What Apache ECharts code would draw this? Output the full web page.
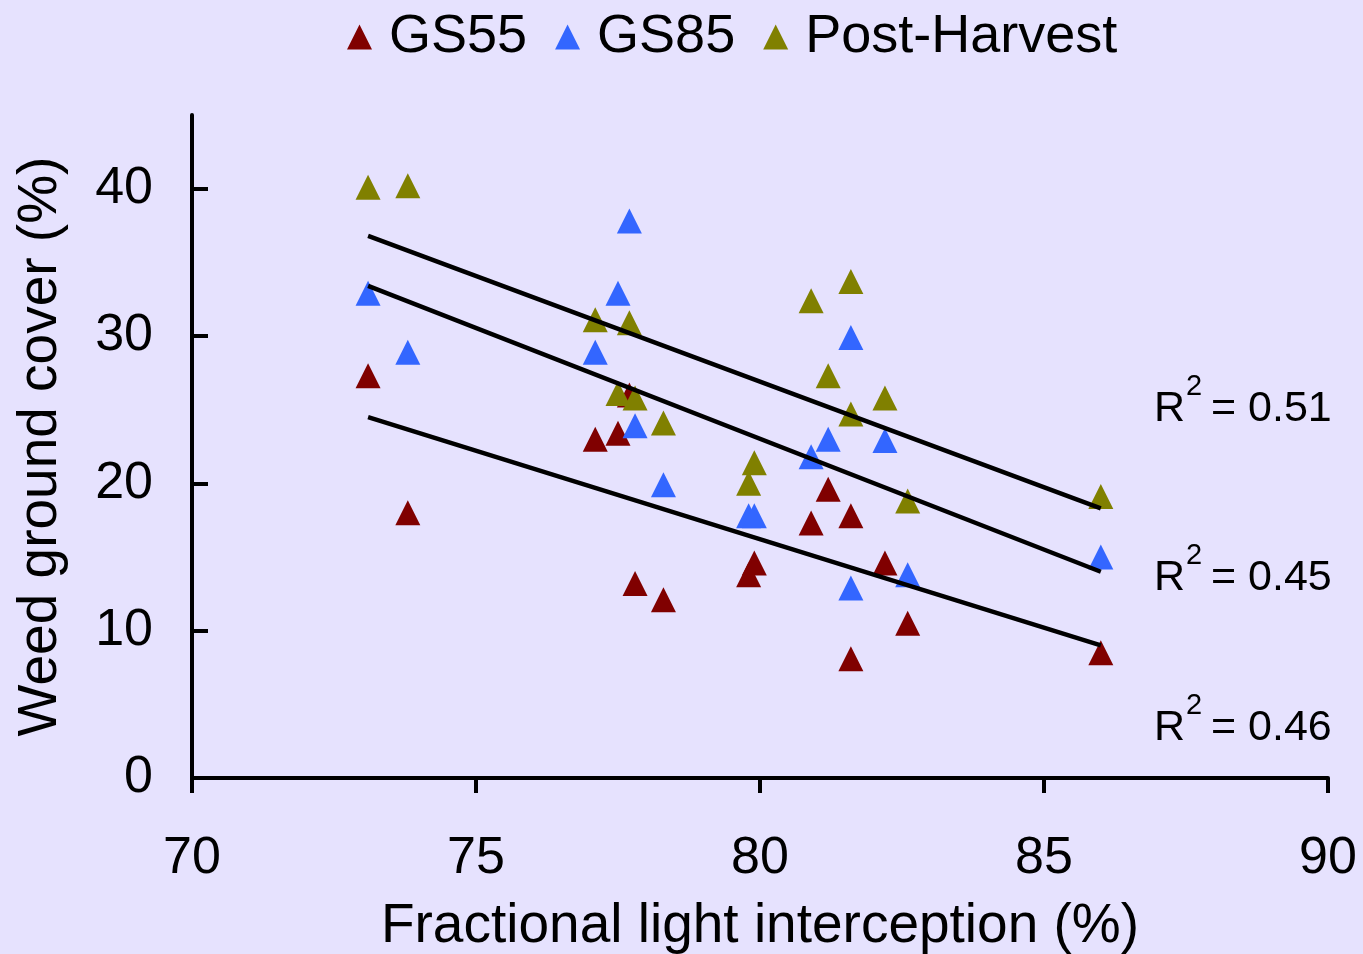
<!doctype html>
<html>
<head>
<meta charset="UTF-8">
<title>Weed ground cover vs light interception</title>
<script src="https://cdn.jsdelivr.net/npm/echarts@6/dist/echarts.min.js"></script>
<style>
  html, body { margin: 0; padding: 0; background: #e6e2fe; }
  #chart { width: 1363px; height: 954px; }
</style>
</head>
<body>
<div id="chart"></div>
<script>
// fractional light interception (%), shared by the three sampling times
var xVals = [73.1, 73.8, 77.1, 77.5, 77.7, 77.8, 78.3, 79.8, 79.9, 80.9, 81.2, 81.6, 81.6, 82.2, 82.6, 86.0];
// weed ground cover (%)
var gs55 = [27.3, 18.0, 23.0, 23.4, 26.0, 13.2, 12.1, 13.8, 14.6, 17.3, 19.6, 17.8, 8.1, 14.6, 10.5, 8.5];
var gs85 = [32.9, 28.9, 28.9, 32.9, 37.8, 23.9, 19.9, 17.8, 17.8, 21.8, 23.0, 29.9, 12.9, 22.9, 13.8, 15.0];
var postHarvest = [40.1, 40.2, 31.1, 26.1, 30.9, 25.8, 24.1, 20.0, 21.4, 32.4, 27.3, 33.7, 24.7, 25.8, 18.8, 19.1];

// trend lines (at both ends)
var trendX = [73.1, 86.0];
var trendGS55 = [24.5, 9.0];
var trendGS85 = [33.4, 14.0];
var trendPost = [36.8, 18.3];

var seriesNames = ['GS55', 'GS85', 'Post-Harvest'];
var seriesColors = ['#800000', '#3366ff', '#808000'];
var r2Values = ['0.51', '0.45', '0.46'];
var yTicks = [0, 10, 20, 30, 40];

var font = '"Liberation Sans", Arial, sans-serif';

function pairs(xs, ys) {
  var out = [];
  for (var i = 0; i < xs.length; i++) out.push([xs[i], ys[i]]);
  return out;
}

function scatter(name, ys, color) {
  return {
    name: name,
    type: 'scatter',
    symbol: 'triangle',
    symbolSize: [25, 25],
    itemStyle: { color: color, opacity: 1 },
    data: pairs(xVals, ys),
    z: 2
  };
}

function trend(ys) {
  return {
    type: 'line',
    symbol: 'none',
    silent: true,
    lineStyle: { color: '#000', width: 4.5 },
    data: pairs(trendX, ys),
    z: 5
  };
}

// R² labels: R, superscript 2, rest
function r2Text(value, yMid) {
  return [
    { type: 'text', left: 1154, top: yMid - 22, style: { text: 'R', font: '43px ' + font, fill: '#000' } },
    { type: 'text', left: 1186, top: yMid - 38, style: { text: '2', font: '29px ' + font, fill: '#000' } },
    { type: 'text', left: 1211, top: yMid - 22, style: { text: '= ' + value, font: '43px ' + font, fill: '#000' } }
  ];
}

var chart = echarts.init(document.getElementById('chart'), null, { renderer: 'canvas' });

var option = {
  backgroundColor: '#e6e2fe',
  animation: false,
  textStyle: { fontFamily: font },
  grid: { left: 192, right: 35, top: 115, bottom: 176, containLabel: false, outerBoundsMode: 'none' },
  legend: {
    data: seriesNames,
    left: 342,
    top: 5,
    icon: 'triangle',
    itemWidth: 25,
    itemHeight: 25,
    itemGap: 28,
    textStyle: { fontSize: 54, color: '#000', fontFamily: font, padding: [0, 0, 0, 12] }
  },
  xAxis: {
    type: 'value',
    min: 70,
    max: 90,
    interval: 5,
    name: 'Fractional light interception (%)',
    nameLocation: 'middle',
    nameGap: 121,
    nameTextStyle: { fontSize: 55, color: '#000', fontFamily: font },
    splitLine: { show: false },
    axisLine: { show: true, onZero: false, lineStyle: { color: '#000', width: 4 } },
    axisTick: { show: true, inside: false, length: 15, lineStyle: { color: '#000', width: 4 } },
    axisLabel: { fontSize: 52, color: '#000', margin: 55, fontFamily: font }
  },
  yAxis: {
    type: 'value',
    min: 0,
    max: 45,
    interval: 10,
    name: 'Weed ground cover (%)',
    nameLocation: 'middle',
    nameGap: 124,
    nameTextStyle: { fontSize: 55, color: '#000', fontFamily: font },
    splitLine: { show: false },
    axisLine: { show: true, onZero: false, lineStyle: { color: '#000', width: 4 } },
    axisTick: { show: true, inside: true, length: 16, customValues: yTicks, lineStyle: { color: '#000', width: 4 } },
    axisLabel: { fontSize: 52, color: '#000', margin: 39, customValues: yTicks, fontFamily: font }
  },
  graphic: [].concat(
    r2Text(r2Values[0], 410),
    r2Text(r2Values[1], 579),
    r2Text(r2Values[2], 729)
  ),
  series: [
    scatter(seriesNames[0], gs55, seriesColors[0]),
    scatter(seriesNames[1], gs85, seriesColors[1]),
    scatter(seriesNames[2], postHarvest, seriesColors[2]),
    trend(trendGS55),
    trend(trendGS85),
    trend(trendPost)
  ]
};

chart.setOption(option);
</script>
</body>
</html>
